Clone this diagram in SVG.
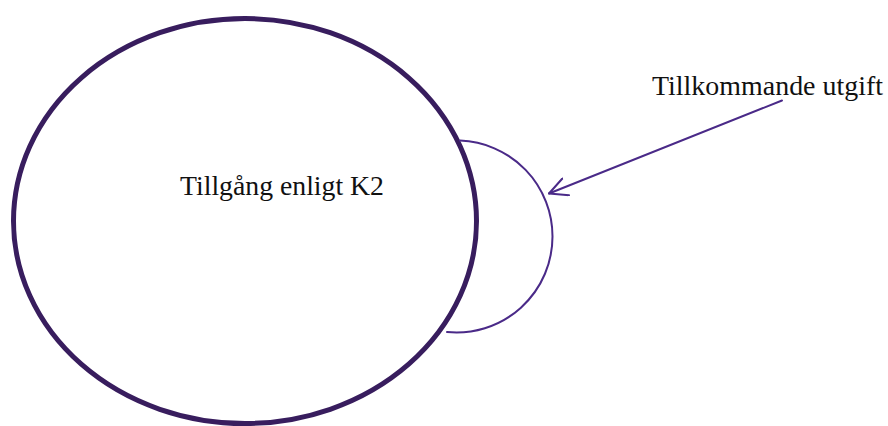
<svg xmlns="http://www.w3.org/2000/svg" width="888" height="426" viewBox="0 0 888 426">
<style>
.lbl{font-family:"Liberation Serif","Times New Roman",serif;font-size:27px;fill:#111}
.thin{fill:none;stroke:#4a2a88;stroke-width:2;stroke-linecap:round;stroke-linejoin:round}
</style>
<defs>
<marker id="open" viewBox="0 0 20 20" refX="19" refY="10" markerWidth="20" markerHeight="20" markerUnits="userSpaceOnUse" orient="auto">
<path d="M1 1 L19 10 L1 19" fill="none" stroke="#4a2a88" stroke-width="2" stroke-linecap="round" stroke-linejoin="round"/>
</marker>
</defs>
<rect width="888" height="426" fill="#fff"/>
<g id="tillgang">
<ellipse cx="245" cy="221" rx="231.5" ry="202.5" fill="none" stroke="#381d5e" stroke-width="5"/>
<text class="lbl" x="180" y="195" textLength="204" lengthAdjust="spacingAndGlyphs">Tillgång enligt K2</text>
</g>
<g id="tillkommande">
<path class="thin" d="M460 140.6 A96 96 0 0 1 552.5 236.5 A96 96 0 0 1 447 332"/>
</g>
<g id="label">
<text class="lbl" x="652" y="95" textLength="231" lengthAdjust="spacingAndGlyphs">Tillkommande utgift</text>
</g>
<g id="connectors">
<line class="thin" x1="782" y1="100.5" x2="549" y2="193.5" marker-end="url(#open)"/>
</g>
</svg>
